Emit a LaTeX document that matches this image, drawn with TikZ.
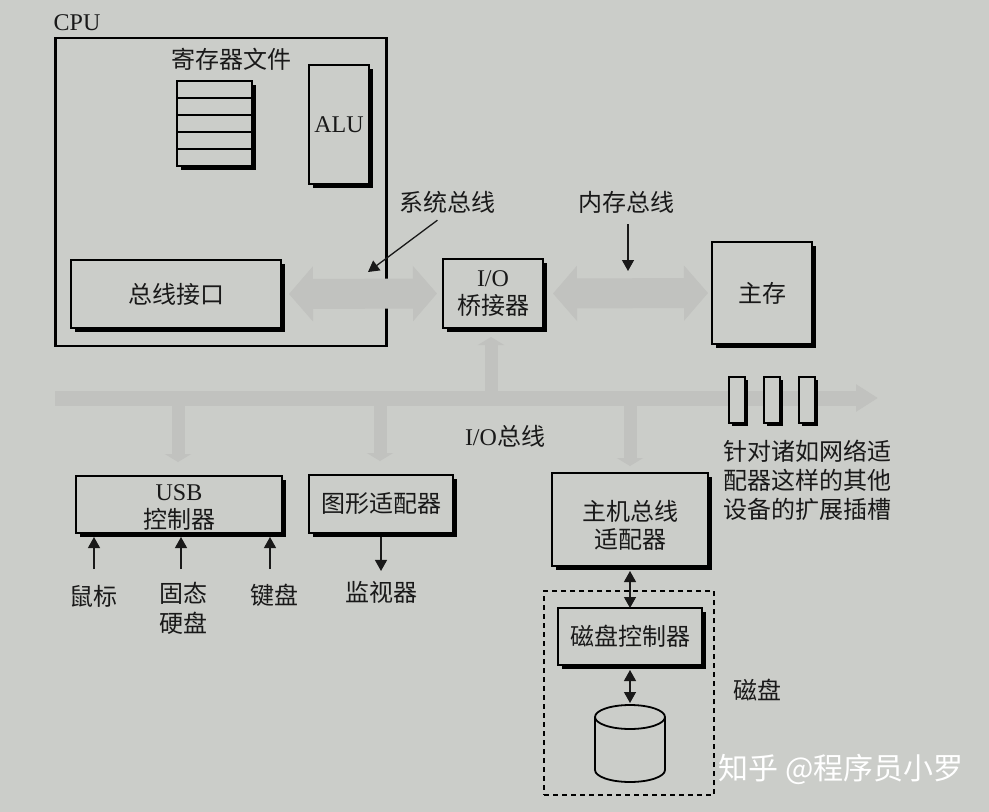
\documentclass[tikz,border=0pt]{standalone}
\usepackage{fontspec}
\usepackage{tikz}
\usetikzlibrary{arrows.meta,calc,shadows}
\setmainfont{Liberation Serif}
\newfontfamily\cjk{Noto Sans CJK SC}
\definecolor{paper}{RGB}{203,205,201}
\definecolor{busgray}{RGB}{193,194,191}
\begin{document}
\begin{tikzpicture}[x=1pt, y=-1pt, every node/.append style={font=\fontsize{24}{28}\selectfont\cjk,
        inner sep=0pt, outer sep=0pt, align=center, color=black!90}]
      \tikzstyle{box} = [draw=black, line width=1.1pt, fill=paper, drop shadow={shadow xshift=4pt, shadow yshift=-4pt, opacity=1, fill=black}]
      \tikzstyle{slotbox} = [draw=black, line width=1.1pt, fill=paper, minimum width=16pt, minimum height=46pt, drop shadow={shadow xshift=3pt, shadow yshift=-3pt, opacity=1, fill=black}]
      \tikzstyle{sig} = [line width=1.3pt, color=black!90, {Triangle[length=11pt,width=12pt]}-{Triangle[length=11pt,width=12pt]}]
      \tikzstyle{sigend} = [line width=1.3pt, color=black!90, -{Triangle[length=11pt,width=12pt]}]
      \tikzstyle{bigbus} = [line width=30pt, color=busgray, {Triangle[length=24pt,width=54pt]}-{Triangle[length=24pt,width=54pt]}]
      \tikzstyle{iobus} = [line width=15pt, color=busgray, -{Triangle[length=22pt,width=26pt]}]
      \tikzstyle{tap} = [line width=13pt, color=busgray, -{Triangle[length=8pt,width=26pt]}]
      \fill[paper] (0,0) rectangle (989,812);
      \useasboundingbox (0,0) rectangle (989,812);
      \node (cpu) [draw=black, line width=2.8pt, minimum width=331pt, minimum height=308pt] at (221,192) {};
      \node (cpulabel) at (77,23) {\rmfamily CPU};
      \node (regtitle) at (231,59) {寄存器文件};
      \node (regfile) [box, minimum width=75pt, minimum height=85pt] at (214.5,123.5) {};
      \foreach \row in {1,2,3,4}
        \draw[line width=1.1pt] ($(regfile.north west)!\row/5!(regfile.south west)$) -- ($(regfile.north east)!\row/5!(regfile.south east)$);
      \node (alu) [box, minimum width=60pt, minimum height=119pt] at (339,124.5) {\rmfamily ALU};
      \node (busif) [box, minimum width=210pt, minimum height=68pt] at (176,294) {总线接口};
      \node (bridge) [box, minimum width=100pt, minimum height=69pt] at (493,293.5) {{\rmfamily I/O}\\桥接器};
      \node (mem) [box, minimum width=100pt, minimum height=102pt] at (762,293) {主存};
      \node (usb) [box, minimum width=206pt, minimum height=57pt] at (179,504.5) {\rule{0pt}{22pt}{\rmfamily USB}\\控制器};
      \node (gpu) [box, minimum width=144pt, minimum height=58pt] at (381,504) {图形适配器};
      \node (host) [box, minimum width=156pt, minimum height=93pt] at (630,519.5) {\rule{0pt}{32pt}主机总线\\适配器};
      \node (diskbox) [draw=black, dash pattern=on 5pt off 4pt, line width=1.1pt, minimum width=170pt, minimum height=204pt] at (629,693) {};
      \node (ctrl) [box, minimum width=144pt, minimum height=57pt] at (630,636.5) {磁盘控制器};
      \node (disk) [minimum width=70pt, minimum height=77pt] at (630,743.5) {};
      \draw[line width=1.8pt] (disk.west |- 0,717) ++(35pt,0) ellipse [x radius=35pt, y radius=12pt];
      \draw[line width=1.8pt] (disk.west |- 0,717) -- (disk.west |- 0,770) arc [start angle=180, end angle=360, x radius=35pt, y radius=12pt] -- (disk.east |- 0,717);

      \coordinate (iostart) at (55,398);
      \coordinate (ioend) at (878,398);
      \coordinate (bridgetap) at (491,398);
      \coordinate (usbtap) at (178,398);
      \coordinate (gputap) at (380,398);
      \coordinate (hosttap) at (630,398);
      \draw[bigbus] ([xshift=8pt]busif.east) -- ([xshift=-6pt]bridge.west);
      \draw[bigbus] ([xshift=10pt]bridge.east) -- ([xshift=-4pt]mem.west);
      \draw[iobus] (iostart) -- (ioend);
      \draw[tap, shorten >=9pt] (bridgetap) -- (bridgetap |- bridge.south);
      \draw[tap, shorten >=14pt] (usbtap) -- (usbtap |- usb.north);
      \draw[tap, shorten >=14pt] (gputap) -- (gputap |- gpu.north);
      \draw[tap, shorten >=7pt] (hosttap) -- (hosttap |- host.north);
      \node (slota) [slotbox] at (737,400) {};
      \node (slotb) [slotbox] at (772,400) {};
      \node (slotc) [slotbox] at (807,400) {};

      \node (syslabel) at (447,202) {系统总线};
      \node (memlabel) at (626,202) {内存总线};
      \node (iolabel) at (505,436) {{\rmfamily I/O}总线};
      \node (slotlabel) [align=left, anchor=north west] at (723,440) {针对诸如网络适\\[1pt]配器这样的其他\\[1pt]设备的扩展插槽};
      \node (mouse) at (93,596) {鼠标};
      \node (ssd) at (183,608) {固态\\[2pt]硬盘};
      \node (keyboard) at (274,595) {键盘};
      \node (monitor) at (381,592) {监视器};
      \node (disklabel) at (757,690) {磁盘};
      \node (mark) [color=white, font=\fontsize{30}{30}\selectfont\cjk] at (841,769) {知乎 @程序员小罗};

      \coordinate (sysend) at (368,272);
      \coordinate (memend) at (628,271);
      \coordinate (mousetail) at (94,569);
      \coordinate (ssdtail) at (181,569);
      \coordinate (keytail) at (270,569);
      \draw[sigend, shorten <=12pt] (syslabel.south) -- (sysend);
      \draw[sigend, shorten <=11pt] (memend |- memlabel.south) -- (memend);
      \draw[sigend, shorten >=4pt] (mousetail) -- (mousetail |- usb.south);
      \draw[sigend, shorten >=4pt] (ssdtail) -- (ssdtail |- usb.south);
      \draw[sigend, shorten >=4pt] (keytail) -- (keytail |- usb.south);
      \draw[sigend, shorten <=4pt, shorten >=10pt] (gpu.south) -- (monitor.north);
      \draw[sig, shorten <=5pt] (host.south) -- (ctrl.north);
      \draw[sig, shorten <=5pt, shorten >=2pt] (ctrl.south) -- (disk.north);
    \end{tikzpicture}
\end{document}
